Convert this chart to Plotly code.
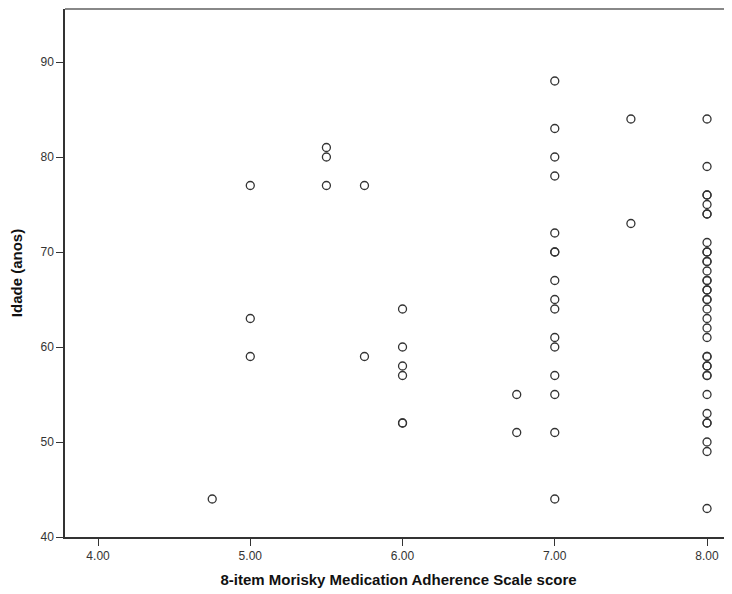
import plotly.graph_objects as go

# Data: (score, age) pairs
score = ([4.75] + [5.0]*3 + [5.5]*3 + [5.75]*2 + [6.0]*6 + [6.75]*2 + [7.0]*16
         + [7.5]*2 + [8.0]*36)
age = ([44]
       + [77, 63, 59]
       + [81, 80, 77]
       + [77, 59]
       + [64, 60, 58, 57, 52, 52]
       + [55, 51]
       + [88, 83, 80, 78, 72, 70, 70, 67, 65, 64, 61, 60, 57, 55, 51, 44]
       + [84, 73]
       + [84, 79, 76, 76, 75, 74, 74, 71, 70, 70, 69, 69, 68, 67, 67, 66, 66,
          65, 65, 64, 63, 62, 61, 59, 59, 58, 58, 57, 57, 55, 53, 52, 52, 50, 49, 43])

x_ticks = [4, 5, 6, 7, 8]
x_tick_labels = ["4.00", "5.00", "6.00", "7.00", "8.00"]
y_ticks = [40, 50, 60, 70, 80, 90]

fig = go.Figure()
fig.add_trace(go.Scatter(
    x=score, y=age, mode="markers",
    marker=dict(symbol="circle-open", size=8, color="#333333", line=dict(width=1.3)),
    showlegend=False, hoverinfo="x+y",
))

axis_font = dict(family="Liberation Sans, Arial, sans-serif", size=12, color="#333333")
fig.update_layout(
    width=724, height=586,
    margin=dict(l=57, r=0, t=1, b=57),
    paper_bgcolor="white", plot_bgcolor="white",
    font=dict(family="Liberation Sans, Arial, sans-serif", color="#111111"),
    xaxis=dict(
        range=[3.783, 8.164], tickvals=x_ticks, ticktext=x_tick_labels,
        showgrid=False, zeroline=False, showline=True, linecolor="#333333", linewidth=1.5,
        ticks="outside", ticklen=7, tickwidth=1.3, tickcolor="#333333",
        tickfont=axis_font,
        title=dict(text="<b>8-item Morisky Medication Adherence Scale score</b>",
                   font=dict(size=15, color="#111111"), standoff=12),
    ),
    yaxis=dict(
        range=[40, 95.58], tickvals=y_ticks,
        showgrid=False, zeroline=False, showline=True, linecolor="#333333", linewidth=1.5,
        ticks="outside", ticklen=7, tickwidth=1.3, tickcolor="#333333",
        tickfont=axis_font,
        title=dict(text="<b>Idade (anos)</b>", font=dict(size=15, color="#111111"), standoff=16),
    ),
    shapes=[dict(type="line", xref="paper", yref="paper", x0=0, x1=1, y0=1, y1=1,
                 line=dict(color="#888888", width=2))],
)

fig.write_html("out.html")
